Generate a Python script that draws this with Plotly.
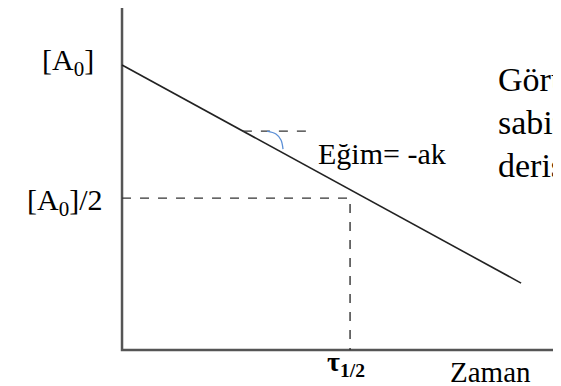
import plotly.graph_objects as go

# conceptual data (time in units of t_half, concentration in units of A0)
line_t = [0.0, 1.75]
line_A = [1.0, 0.235]
half_t = 1.0
half_A = 0.533
axis_top = 1.2
axis_right = 1.93
slope_t = [0.53, 0.833]
slope_A = [0.768, 0.768]
arc_t = [0.636, 0.675, 0.697, 0.706]
arc_A = [0.768, 0.758, 0.737, 0.705]

y_labels = ["[A<sub>0</sub>]", "[A<sub>0</sub>]/2"]
y_label_vals = [1.01, 0.52]
x_label = "<b>τ<sub>1/2</sub></b>"
x_title = "Zaman"
slope_text = "Eğim= -ak"
side_text = ["Görüldüğü", "sabiti", "derişim"]

serif = "Liberation Serif, Times New Roman, serif"

fig = go.Figure()
# axes
fig.add_trace(go.Scatter(x=[0, 0, axis_right], y=[axis_top, 0, 0], mode="lines",
                         line=dict(color="#555555", width=2.5), hoverinfo="skip"))
# main line
fig.add_trace(go.Scatter(x=line_t, y=line_A, mode="lines",
                         line=dict(color="#222222", width=1.6), hoverinfo="skip"))
# half-life dashed guides
fig.add_trace(go.Scatter(x=[0, half_t, half_t], y=[half_A, half_A, 0], mode="lines",
                         line=dict(color="#333333", width=1.4, dash="dash"), hoverinfo="skip"))
# slope dashed
fig.add_trace(go.Scatter(x=slope_t, y=slope_A, mode="lines",
                         line=dict(color="#333333", width=1.4, dash="dash"), hoverinfo="skip"))
# angle arc
fig.add_trace(go.Scatter(x=arc_t, y=arc_A, mode="lines", line_shape="spline",
                         line=dict(color="#5b8fd6", width=1.3), hoverinfo="skip"))

anns = []
for lab, v in zip(y_labels, y_label_vals):
    anns.append(dict(x=-0.08, y=v, text=lab, xanchor="right", yanchor="middle",
                     showarrow=False, font=dict(family=serif, size=30, color="black")))
anns[0]["x"] = -0.115
anns.append(dict(x=0.98, y=0.02, text=x_label, xanchor="center", yanchor="top",
                 showarrow=False, font=dict(family=serif, size=28, color="black")))
anns.append(dict(x=1.614, y=-0.014, text=x_title, xanchor="center", yanchor="top",
                 showarrow=False, font=dict(family=serif, size=29, color="black")))
anns.append(dict(x=0.85, y=0.69, text=slope_text, xanchor="left", yanchor="middle",
                 showarrow=False, font=dict(family=serif, size=30, color="black")))
for i, s in enumerate(side_text):
    anns.append(dict(x=1.64, y=0.95 - i * 0.152, text=s, xanchor="left", yanchor="middle",
                     showarrow=False, font=dict(family=serif, size=34, color="black")))

fig.update_layout(
    width=553, height=378, margin=dict(l=0, r=0, t=0, b=0),
    paper_bgcolor="white", plot_bgcolor="white", showlegend=False,
    xaxis=dict(range=[-0.5, 1.925], visible=False, fixedrange=True),
    yaxis=dict(range=[-0.126, 1.2], visible=False, fixedrange=True),
    annotations=anns,
)
fig.write_html("out.html")
